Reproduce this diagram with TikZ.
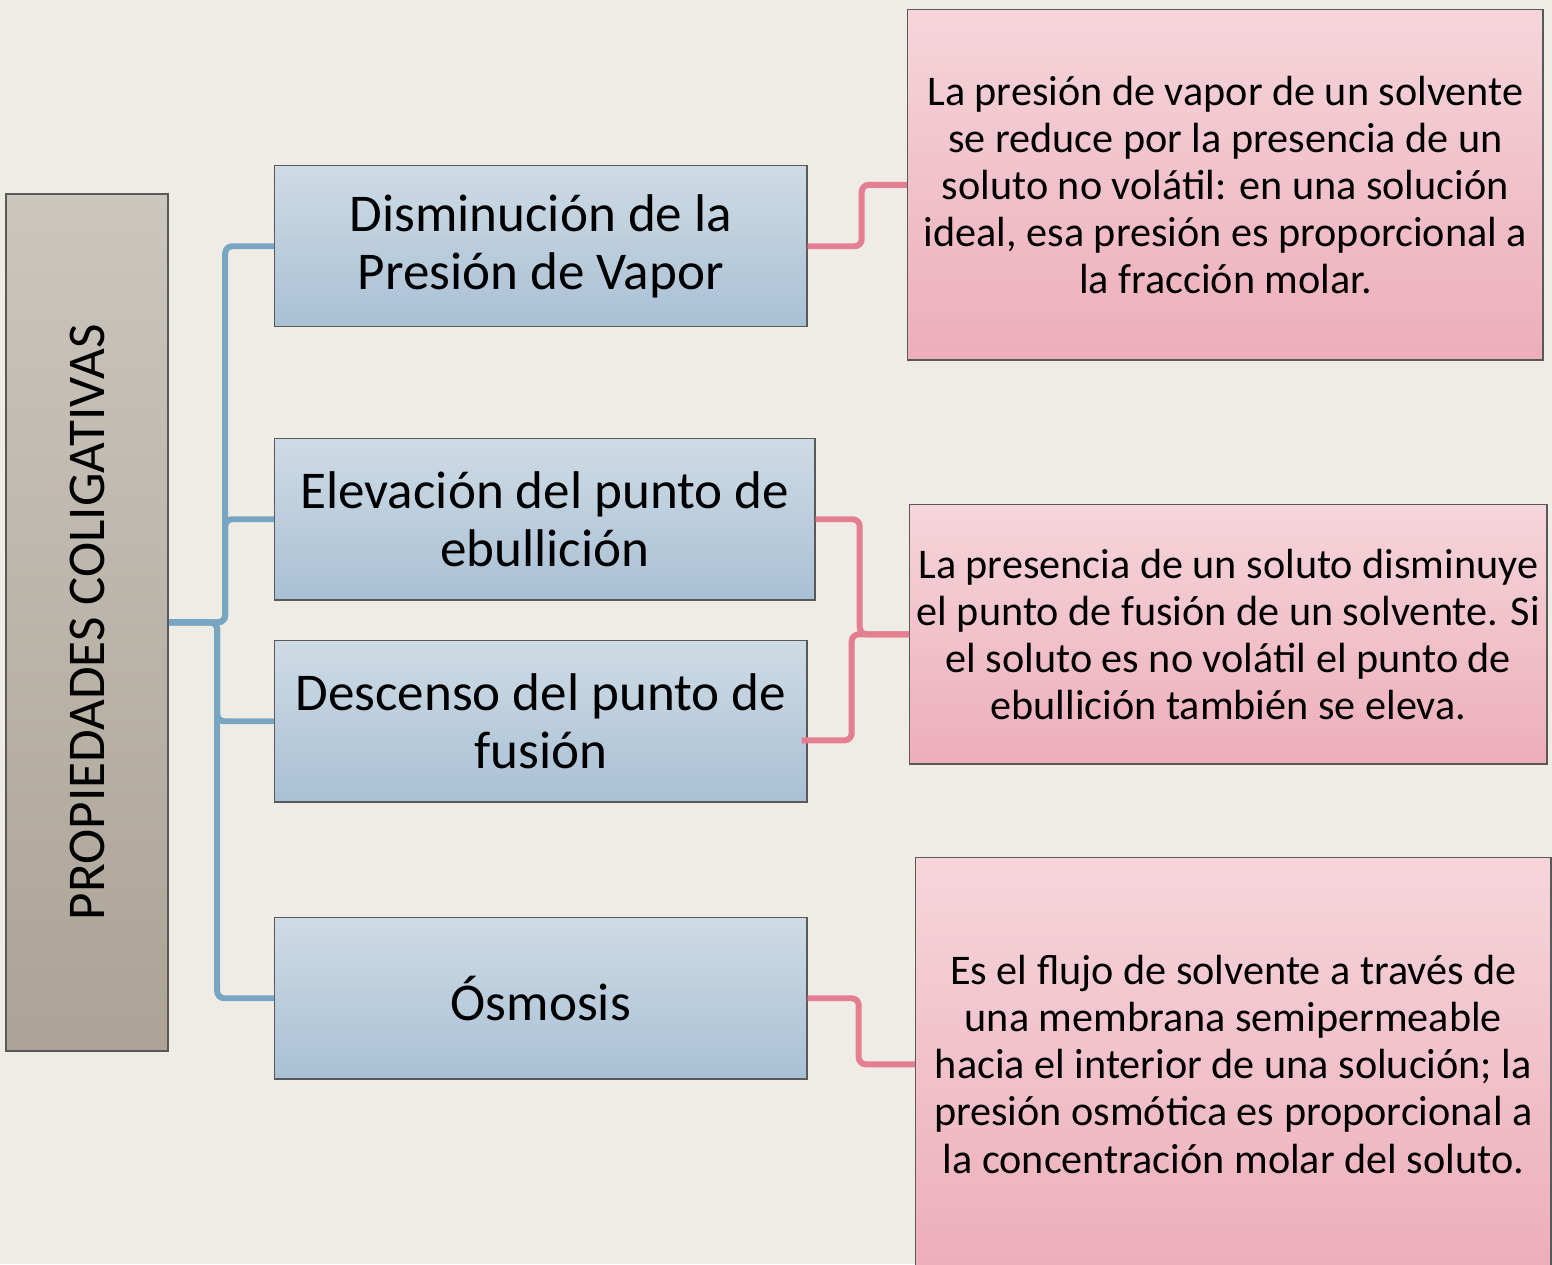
\documentclass[tikz,border=0pt]{standalone}
\usepackage{fontspec}
\setmainfont{Carlito}
\usepackage{xcolor}
\definecolor{paper}{RGB}{239,236,229}
\definecolor{greytop}{RGB}{203,198,190}
\definecolor{greybot}{RGB}{172,163,150}
\definecolor{bluetop}{RGB}{206,219,229}
\definecolor{bluebot}{RGB}{169,192,213}
\definecolor{pinktop}{RGB}{245,213,219}
\definecolor{pinkbot}{RGB}{237,174,186}
\definecolor{linkblue}{RGB}{120,166,194}
\definecolor{linkpink}{RGB}{228,127,146}
\usepackage{tikz}
\usetikzlibrary{calc}
\tikzset{
    common/.style={anchor=north west, draw=black!65, rectangle, inner sep=0pt, align=center},
    heading/.style={common, line width=0.6pt, top color=greytop, bottom color=greybot,
        minimum width=1.62cm, minimum height=8.56cm},
    prop/.style={common, top color=bluetop, bottom color=bluebot, minimum height=1.61cm,
        font=\fontsize{15.1}{16.5}\selectfont},
    note/.style={common, top color=pinktop, bottom color=pinkbot,
        font=\fontsize{12}{13.4}\selectfont},
    blue-link/.style={linkblue, line width=1.7pt, rounded corners=2pt},
    pink-link/.style={linkpink, line width=1.7pt, rounded corners=2pt}
}

\begin{document}
\begin{tikzpicture}[x=0.01cm,y=-0.01cm]
    \fill[paper] (0,0) rectangle (1552,1264);
    \useasboundingbox (0,0) rectangle (1552,1264);

    % left heading
    \node[heading] (main) at (5,193) {};
    \node[rotate=90, font=\fontsize{15.1}{18}\selectfont] (main-text) at (main.center) {PROPIEDADES COLIGATIVAS};

    % the four properties
    \node[prop, minimum width=5.32cm] (b1) at (274,165) {Disminución de la\\Presión de Vapor};
    \node[prop, minimum width=5.40cm] (b2) at (274,438) {Elevación del punto de\\ebullición};
    \node[prop, minimum width=5.32cm] (b3) at (274,640) {Descenso del punto de\\fusión};
    \node[prop, minimum width=5.32cm] (b4) at (274,917) {Ósmosis};

    % descriptions
    \node[note, minimum width=6.35cm, minimum height=3.50cm] (p1) at (907,9)
        {La presión de vapor de un solvente\\se reduce por la presencia de un\\soluto no volátil: en una solución\\ideal, esa presión es proporcional a\\la fracción molar.};
    \node[note, minimum width=6.37cm, minimum height=2.59cm] (p2) at (909,504)
        {La presencia de un soluto disminuye\\el punto de fusión de un solvente. Si\\el soluto es no volátil el punto de\\ebullición también se eleva.};
    \node[note, minimum width=6.35cm, minimum height=4.13cm] (p3) at (915,857)
        {Es el flujo de solvente a través de\\una membrana semipermeable\\hacia el interior de una solución; la\\presión osmótica es proporcional a\\la concentración molar del soluto.};

    % blue connectors
    \draw[blue-link] (main.east) -- ++(56,0) |- (b1.west);
    \draw[blue-link] (main.east) -- ++(56,0) |- (b2.west);
    \draw[blue-link] (main.east) -- ++(48,0) |- (b3.west);
    \draw[blue-link] (main.east) -- ++(48,0) |- (b4.west);

    % pink connectors
    \draw[pink-link] (b1.east) -- ++(54,0) |- (p1.west);
    \draw[pink-link] (b2.east) -- ++(44,0) |- (p2.west);
    \draw[pink-link] ([xshift=-0.06cm,yshift=-0.19cm]b3.east) -- ++(50,0) |- (p2.west);
    \draw[pink-link] (b4.east) -- ++(51,0) |- (p3.west);
\end{tikzpicture}
\end{document}
